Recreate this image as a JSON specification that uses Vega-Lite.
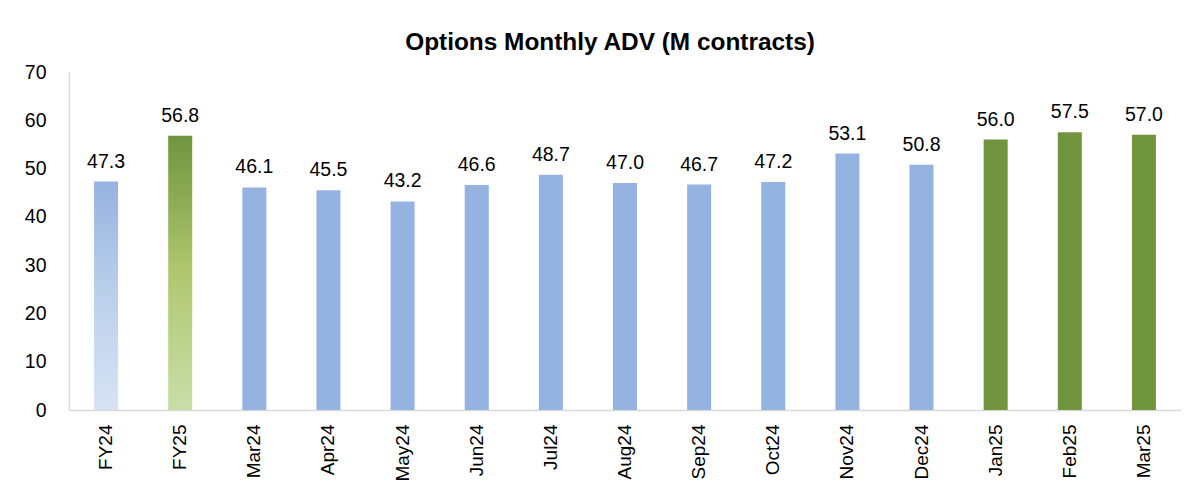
{
  "$schema": "https://vega.github.io/schema/vega-lite/v6.json",
  "autosize": "none",
  "width": 1112,
  "height": 338,
  "padding": {"left": 69, "top": 72, "right": 12, "bottom": 75},
  "background": "white",
  "title": {"text": "Options Monthly ADV (M contracts)", "font": "Liberation Sans", "fontSize": 24.4, "fontWeight": "bold", "color": "#000000", "anchor": "middle", "offset": 16, "dy": 9, "dx": -15},
  "data": {"values": [
    {"label": "FY24", "value": 47.3, "type": "FY24"},
    {"label": "FY25", "value": 56.8, "type": "FY25"},
    {"label": "Mar24", "value": 46.1, "type": "2024"},
    {"label": "Apr24", "value": 45.5, "type": "2024"},
    {"label": "May24", "value": 43.2, "type": "2024"},
    {"label": "Jun24", "value": 46.6, "type": "2024"},
    {"label": "Jul24", "value": 48.7, "type": "2024"},
    {"label": "Aug24", "value": 47.0, "type": "2024"},
    {"label": "Sep24", "value": 46.7, "type": "2024"},
    {"label": "Oct24", "value": 47.2, "type": "2024"},
    {"label": "Nov24", "value": 53.1, "type": "2024"},
    {"label": "Dec24", "value": 50.8, "type": "2024"},
    {"label": "Jan25", "value": 56.0, "type": "2025"},
    {"label": "Feb25", "value": 57.5, "type": "2025"},
    {"label": "Mar25", "value": 57.0, "type": "2025"}
  ]},
  "encoding": {
    "x": {"field": "label", "type": "nominal", "sort": null,
      "scale": {"paddingInner": 0.676, "paddingOuter": 0.338},
      "axis": {"title": null, "labelAngle": -90, "labelAlign": "right", "labelBaseline": "middle", "labelFont": "Liberation Sans", "labelFontSize": 19, "labelColor": "#000000", "labelPadding": 14, "ticks": false, "domainColor": "#D9D9D9", "domainWidth": 1.5}},
    "y": {"field": "value", "type": "quantitative",
      "scale": {"domain": [0, 70], "nice": false},
      "axis": {"title": null, "values": [0, 10, 20, 30, 40, 50, 60, 70], "grid": false, "ticks": false, "labelFont": "Liberation Sans", "labelFontSize": 19.5, "labelColor": "#000000", "labelPadding": 23, "domainColor": "#D9D9D9", "domainWidth": 1.5}}
  },
  "layer": [
    {"mark": {"type": "bar"},
     "encoding": {
       "color": {
         "condition": [
           {"test": "datum.type === 'FY24'", "value": {"gradient": "linear", "x1": 0, "y1": 0, "x2": 0, "y2": 1, "stops": [{"offset": 0, "color": "#95B3E0"}, {"offset": 0.5, "color": "#BCD0EB"}, {"offset": 1, "color": "#D7E3F4"}]}},
           {"test": "datum.type === 'FY25'", "value": {"gradient": "linear", "x1": 0, "y1": 0, "x2": 0, "y2": 1, "stops": [{"offset": 0, "color": "#6E953E"}, {"offset": 0.5, "color": "#AFC86F"}, {"offset": 1, "color": "#C8DEA8"}]}}
         ],
         "field": "type", "type": "nominal",
         "scale": {"domain": ["2024", "2025", "FY24", "FY25"], "range": ["#95B3E1", "#71953F", "#95B3E1", "#71953F"]},
         "legend": null
       }
     }},
    {"mark": {"type": "text", "baseline": "bottom", "dy": -10, "font": "Liberation Sans", "fontSize": 19.5, "color": "#000000"},
     "encoding": {"text": {"field": "value", "type": "quantitative", "format": ".1f"}}}
  ],
  "config": {"view": {"stroke": null}}
}
